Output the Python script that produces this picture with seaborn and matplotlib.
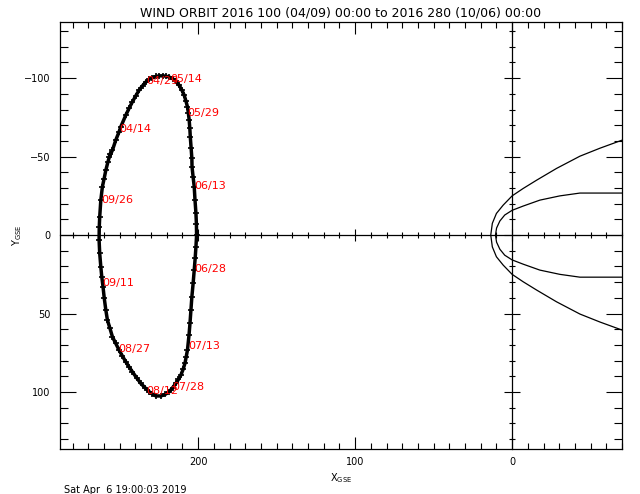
import matplotlib
matplotlib.use("Agg")
import matplotlib.pyplot as plt
from matplotlib.ticker import MultipleLocator, FixedLocator
import seaborn as sns
import pandas as pd

# ---------------- data ----------------
title = "WIND ORBIT 2016 100 (04/09) 00:00 to 2016 280 (10/06) 00:00"
stamp = "Sat Apr  6 19:00:03 2019"

orbit_x = [256.5, 254.6, 252.5, 250.3, 249.3, 246.1, 244.0, 241.9, 239.7, 237.6,
           235.4, 233.3, 231.2, 229.1, 226.9, 224.8, 222.6, 220.5, 218.4, 216.3,
           214.2, 212.1, 210.4, 208.9, 207.8, 206.8, 206.2, 205.7, 205.3, 205.0,
           204.5, 204.0, 203.9, 203.2, 202.5, 202.0, 201.4, 201.1, 201.0, 201.4,
           201.9, 202.5, 203.2, 204.0, 204.6, 205.2, 205.8, 206.8, 207.6, 208.4,
           209.6, 211.0, 212.6, 214.2, 216.3, 218.4, 221.0, 223.7, 226.9, 229.1,
           231.2, 233.8, 236.5, 239.2, 241.9, 244.0, 246.1, 248.3, 250.4, 252.5,
           254.6, 256.3, 257.8, 258.8, 259.8, 260.6, 261.4, 262.0, 262.7, 263.1,
           263.0, 262.7, 262.0, 261.0, 259.9, 258.8, 257.5, 256.0]
orbit_y = [-50.0, -54.1, -60.5, -66.0, -69.0, -76.4, -80.8, -84.9, -88.8, -92.4,
           -95.2, -97.6, -99.2, -100.4, -101.1, -101.5, -101.5, -101.3, -100.7, -99.8,
           -97.9, -95.5, -92.5, -89.2, -85.5, -81.7, -77.5, -73.2, -68.0, -62.6,
           -55.8, -48.9, -43.5, -37.0, -30.8, -22.3, -13.8, -6.9, 0.0, 7.4,
           14.8, 22.3, 30.8, 39.3, 47.8, 56.2, 63.5, 73.2, 77.5, 81.7,
           85.6, 89.2, 92.0, 94.5, 97.3, 99.8, 101.5, 102.5, 102.5, 101.3,
           99.8, 97.3, 94.5, 90.9, 87.1, 84.0, 80.7, 77.0, 73.2, 69.0,
           64.8, 59.0, 54.1, 47.8, 40.3, 32.9, 26.5, 20.2, 11.7, 3.2,
           -5.0, -11.7, -22.3, -30.8, -36.0, -41.4, -46.5, -52.0]

label_dates = ["04/14", "04/29", "05/14", "05/29", "06/13", "06/28",
               "07/13", "07/28", "08/12", "08/27", "09/11", "09/26"]
label_x = [250.3, 233.3, 217.8, 207.0, 202.6, 202.6, 206.3, 216.6, 233.3, 251.0, 261.2, 261.9]
label_y = [-66.0, -96.0, -97.5, -76.0, -29.3, 23.6, 72.6, 98.7, 101.3, 74.5, 32.5, -20.4]

bs_x = [-70, -56, -43.2, -28.3, -15.6, -7.0, 0, 5.7, 10.0, 12.6, 13.6,
        12.6, 10.0, 5.7, 0, -7.0, -15.6, -28.3, -43.2, -56, -70]
bs_y = [-60.5, -55.4, -50.3, -42.5, -35.0, -29.7, -25.0, -19.1, -13.8, -7.5, 0,
        7.5, 13.8, 19.1, 25.0, 29.7, 35.0, 42.5, 50.3, 55.4, 60.5]

mp_x = [-70, -43.2, -30.4, -17.7, -7.0, 0, 4.7, 7.8, 9.9, 10.6,
        9.9, 7.8, 4.7, 0, -7.0, -17.7, -30.4, -43.2, -70]
mp_y = [-26.8, -26.8, -25.0, -22.3, -18.5, -15.8, -12.8, -9.0, -4.5, 0,
        4.5, 9.0, 12.8, 15.8, 18.5, 22.3, 25.0, 26.8, 26.8]

x_major = [200, 100, 0]
y_major = [-100, -50, 0, 50, 100]

# ---------------- figure ----------------
sns.set_style("white")
plt.rcParams['font.family'] = ['DejaVu Sans']
plt.rcParams['mathtext.default'] = 'regular'
plt.rcParams['text.color'] = 'black'
plt.rcParams['axes.labelcolor'] = 'black'
plt.rcParams['xtick.color'] = 'black'
plt.rcParams['ytick.color'] = 'black'

fig = plt.figure(figsize=(6.4, 4.94), dpi=100)
ax = fig.add_axes([60 / 640, 1 - 449 / 494, 562 / 640, 427.3 / 494])

orbit = pd.DataFrame({"x": orbit_x, "y": orbit_y})
bs = pd.DataFrame({"x": bs_x, "y": bs_y})
mp = pd.DataFrame({"x": mp_x, "y": mp_y})

sns.lineplot(data=bs, x="x", y="y", sort=False, estimator=None, color="black",
             lw=0.9, ax=ax)
sns.lineplot(data=mp, x="x", y="y", sort=False, estimator=None, color="black",
             lw=0.9, ax=ax)
sns.lineplot(data=orbit, x="x", y="y", sort=False, estimator=None, color="black",
             lw=2.5, marker="+", markersize=5, markeredgewidth=1.2,
             markeredgecolor="black", ax=ax)

for d, lx, ly in zip(label_dates, label_x, label_y):
    ax.text(lx, ly, d, color="red", fontsize=8, ha="left", va="baseline")

ax.set_xlim(288, -70)
ax.set_ylim(136.3, -136)

for s in ax.spines.values():
    s.set_visible(True)
    s.set_color("black")
    s.set_linewidth(0.9)

ax.xaxis.set_major_locator(FixedLocator(x_major))
ax.xaxis.set_minor_locator(MultipleLocator(10))
ax.yaxis.set_major_locator(FixedLocator(y_major))
ax.yaxis.set_minor_locator(MultipleLocator(10))
ax.set_xticklabels([str(v) for v in x_major])
ax.set_yticklabels([str(v).replace("-", "\u2212") for v in y_major])

ax.tick_params(axis="x", which="major", direction="in", length=8.6, width=0.8,
               top=True, bottom=True, labelsize=7, pad=6, color="black",
               labelcolor="black")
ax.tick_params(axis="x", which="minor", direction="in", length=4.3, width=0.8,
               top=True, bottom=True, color="black")
ax.tick_params(axis="y", which="major", direction="in", length=11.2, width=0.8,
               left=True, right=True, labelsize=7, pad=7, color="black",
               labelcolor="black")
ax.tick_params(axis="y", which="minor", direction="in", length=5.6, width=0.8,
               left=True, right=True, color="black")

# axes through the origin
secx = ax.secondary_xaxis(0, transform=ax.transData)
secx.xaxis.set_major_locator(FixedLocator(x_major))
secx.xaxis.set_minor_locator(MultipleLocator(10))
secx.tick_params(axis="x", which="major", direction="inout", length=9, width=0.8,
                 labelbottom=False, labeltop=False, color="black")
secx.tick_params(axis="x", which="minor", direction="inout", length=5, width=0.8,
                 color="black")
for s in secx.spines.values():
    s.set_linewidth(0.9)
    s.set_color("black")

secy = ax.secondary_yaxis(0, transform=ax.transData)
secy.yaxis.set_major_locator(FixedLocator(y_major))
secy.yaxis.set_minor_locator(MultipleLocator(10))
secy.tick_params(axis="y", which="major", direction="inout", length=12, width=0.8,
                 labelleft=False, labelright=False, color="black")
secy.tick_params(axis="y", which="minor", direction="inout", length=5, width=0.8,
                 color="black")
for s in secy.spines.values():
    s.set_linewidth(0.9)
    s.set_color("black")

ax.set_xlabel(r"X$_{GSE}$", fontsize=7, labelpad=3, color="black")
ax.set_ylabel(r"Y$_{GSE}$", fontsize=7, labelpad=0, color="black")
ax.set_title(title, fontsize=9, pad=4, color="black")

fig.text(64 / 640, 1 - 489.5 / 494, stamp, fontsize=7, ha="left", va="center",
         color="black")

fig.savefig("out.png", dpi=100)
